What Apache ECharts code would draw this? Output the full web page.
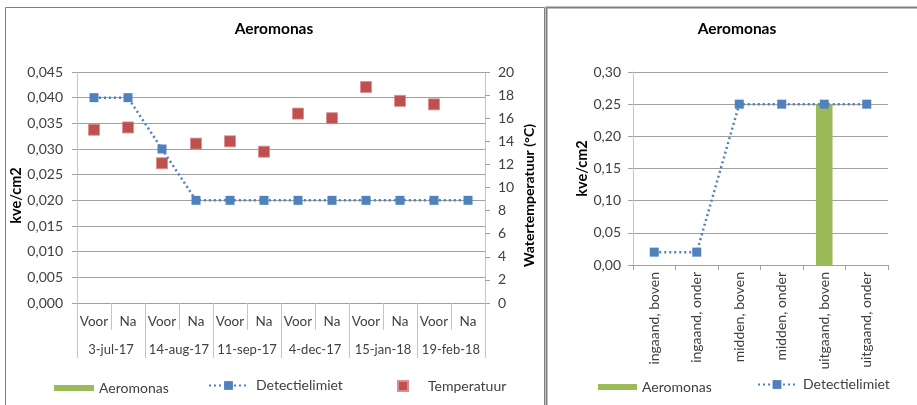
<!DOCTYPE html>
<html>
	<head>
		<meta charset="utf-8" />
		<title>Aeromonas</title>
		<script src="https://cdn.jsdelivr.net/npm/echarts@6/dist/echarts.min.js"></script>
		<style>
			*{
				padding: 0;
				margin: 0;
			}
			#main{
				width: 917px;
				height: 405px;
				background: #fff;
			}
		</style>
	</head>
	<body>
		<div id="main"></div>
		<script type="text/javascript">
		// left chart: sampling moments
		var fases = ['Voor', 'Na', 'Voor', 'Na', 'Voor', 'Na', 'Voor', 'Na', 'Voor', 'Na', 'Voor', 'Na'];
		var datums = ['3-jul-17', '14-aug-17', '11-sep-17', '4-dec-17', '15-jan-18', '19-feb-18'];
		var aeroLinks = [0, 0, 0, 0, 0, 0, 0, 0, 0, 0, 0, 0];
		var detectLinks = [0.040, 0.040, 0.030, 0.020, 0.020, 0.020, 0.020, 0.020, 0.020, 0.020, 0.020, 0.020];
		var temperatuur = [15.0, 15.2, 12.1, 13.8, 14.0, 13.1, 16.4, 16.0, 18.7, 17.5, 17.2, null];

		// right chart: locations
		var locaties = ['ingaand, boven', 'ingaand, onder', 'midden, boven', 'midden, onder', 'uitgaand, boven', 'uitgaand, onder'];
		var aeroRechts = [0, 0, 0, 0, 0.25, 0];
		var detectRechts = [0.02, 0.02, 0.25, 0.25, 0.25, 0.25];

		var font = 'Lato';
		var fs = 14;
		var tekst = '#404040';
		var raster = '#a0a0a0';
		var lijn = '#c4c4c4';
		var groen = '#9BBB59', blauw = '#4F81BD', rood = '#C0504D';

		function komma(n) {
			return function (v) { return v.toFixed(n).replace('.', ','); };
		}

		var myChart = echarts.init(document.getElementById('main'));

		var option = {
			backgroundColor: '#fff',
			animation: false,
			textStyle: { fontFamily: font },
			graphic: [
				{ type: 'rect', z: -10, silent: true, shape: { x: 5.5, y: 7.5, width: 539, height: 420 }, style: { fill: '#fff', stroke: '#808080', lineWidth: 1 } },
				{ type: 'rect', z: -10, silent: true, shape: { x: 546.5, y: 7.5, width: 420, height: 420 }, style: { fill: '#fff', stroke: '#808080', lineWidth: 2 } }
			],
			title: [
				{ text: 'Aeromonas', left: 274, top: 21, padding: 0, textAlign: 'center', textStyle: { fontFamily: font, fontSize: 15.5, fontWeight: 'bold', color: '#000' } },
				{ text: 'Aeromonas', left: 737, top: 21, padding: 0, textAlign: 'center', textStyle: { fontFamily: font, fontSize: 15.5, fontWeight: 'bold', color: '#000' } }
			],
			legend: [
				{ left: 54, top: 381, padding: 0, selectedMode: false, itemWidth: 40, itemHeight: 6, data: [{ name: 'Aeromonas', icon: 'rect' }], textStyle: { fontFamily: font, fontSize: fs, color: tekst } },
				{ left: 208, top: 378.5, padding: 0, selectedMode: false, itemWidth: 39, itemHeight: 11, data: ['Detectielimiet'], textStyle: { fontFamily: font, fontSize: fs, color: tekst, padding: [0, 0, 0, 3] } },
				{ left: 397, top: 379, padding: 0, selectedMode: false, itemWidth: 10, itemHeight: 10, data: [{ name: 'Temperatuur', icon: 'rect' }], textStyle: { fontFamily: font, fontSize: fs, color: tekst, padding: [0, 0, 0, 15] } },
				{ left: 598, top: 380, padding: 0, selectedMode: false, itemWidth: 39, itemHeight: 6, data: [{ name: 'Aeromonas', icon: 'rect' }], textStyle: { fontFamily: font, fontSize: fs, color: tekst } },
				{ left: 757, top: 377.5, padding: 0, selectedMode: false, itemWidth: 38, itemHeight: 11, data: ['Detectielimiet'], textStyle: { fontFamily: font, fontSize: fs, color: tekst, padding: [0, 0, 0, 2] } }
			],
			grid: [
				{ left: 77, top: 72, width: 408, height: 231 },
				{ left: 633, top: 72, width: 255, height: 193 }
			],
			xAxis: [
				{
					type: 'category', gridIndex: 0, data: fases, position: 'bottom',
					axisLine: { lineStyle: { color: raster } },
					axisTick: { show: true, length: 27, interval: 0, lineStyle: { color: lijn } },
					axisLabel: { interval: 0, margin: 12, fontSize: 13.5, color: tekst, fontFamily: font }
				},
				{
					type: 'category', gridIndex: 0, data: datums, position: 'bottom',
					axisLine: { show: false },
					axisTick: { show: true, length: 55, interval: 0, lineStyle: { color: lijn } },
					axisLabel: { interval: 0, margin: 40, fontSize: 13, color: tekst, fontFamily: font }
				},
				{
					type: 'category', gridIndex: 1, data: locaties,
					axisLine: { lineStyle: { color: raster } },
					axisTick: { show: true, length: 5, interval: 0, lineStyle: { color: raster } },
					axisLabel: { interval: 0, rotate: 90, margin: 7, fontSize: fs, color: tekst, fontFamily: font }
				}
			],
			yAxis: [
				{
					type: 'value', gridIndex: 0, min: 0, max: 0.045, interval: 0.005,
					name: 'kve/cm2', nameLocation: 'middle', nameGap: 50,
					nameTextStyle: { fontFamily: font, fontSize: 14.5, fontWeight: 'bold', color: '#000', padding: [0, 16, 0, 0] },
					axisLine: { show: true, lineStyle: { color: lijn } },
					axisTick: { show: true, length: 5, lineStyle: { color: raster } },
					axisLabel: { margin: 14, fontSize: fs, color: tekst, fontFamily: font, formatter: komma(3) },
					splitLine: { lineStyle: { color: raster } }
				},
				{
					type: 'value', gridIndex: 0, position: 'right', min: 0, max: 20, interval: 2,
					name: 'Watertemperatuur (°C)', nameLocation: 'middle', nameGap: 37,
					nameTextStyle: { fontFamily: font, fontSize: 14, fontWeight: 'bold', color: '#000', padding: [0, 16, 0, 0] },
					axisLine: { show: true, lineStyle: { color: lijn } },
					axisTick: { show: true, length: 5, lineStyle: { color: raster } },
					axisLabel: { margin: 13, fontSize: fs, color: tekst, fontFamily: font },
					splitLine: { show: false }
				},
				{
					type: 'value', gridIndex: 1, min: 0, max: 0.3, interval: 0.05,
					name: 'kve/cm2', nameLocation: 'middle', nameGap: 42,
					nameTextStyle: { fontFamily: font, fontSize: 14.5, fontWeight: 'bold', color: '#000' },
					axisLine: { show: true, lineStyle: { color: lijn } },
					axisTick: { show: true, length: 5, lineStyle: { color: raster } },
					axisLabel: { margin: 12, fontSize: fs, color: tekst, fontFamily: font, formatter: komma(2) },
					splitLine: { lineStyle: { color: raster } }
				}
			],
			series: [
				{
					name: 'Aeromonas', type: 'bar', xAxisIndex: 0, yAxisIndex: 0,
					barWidth: '39%', itemStyle: { color: groen }, data: aeroLinks
				},
				{
					name: 'Detectielimiet', type: 'line', xAxisIndex: 0, yAxisIndex: 0,
					symbol: 'rect', symbolSize: 9, showAllSymbol: true,
					itemStyle: { color: blauw },
					lineStyle: { color: blauw, width: 2.5, type: [2, 3] },
					data: detectLinks
				},
				{
					name: 'Temperatuur', type: 'scatter', xAxisIndex: 0, yAxisIndex: 1,
					symbol: 'rect', symbolSize: 11,
					itemStyle: { color: rood, opacity: 1, borderColor: '#d88e8c', borderWidth: 0.8 },
					data: temperatuur
				},
				{
					name: 'Aeromonas', type: 'bar', xAxisIndex: 2, yAxisIndex: 2,
					barWidth: '39%', itemStyle: { color: groen }, data: aeroRechts
				},
				{
					name: 'Detectielimiet', type: 'line', xAxisIndex: 2, yAxisIndex: 2,
					symbol: 'rect', symbolSize: 9, showAllSymbol: true,
					itemStyle: { color: blauw },
					lineStyle: { color: blauw, width: 2.5, type: [2, 3] },
					data: detectRechts
				}
			]
		};

		myChart.setOption(option);
		</script>
	</body>
</html>
